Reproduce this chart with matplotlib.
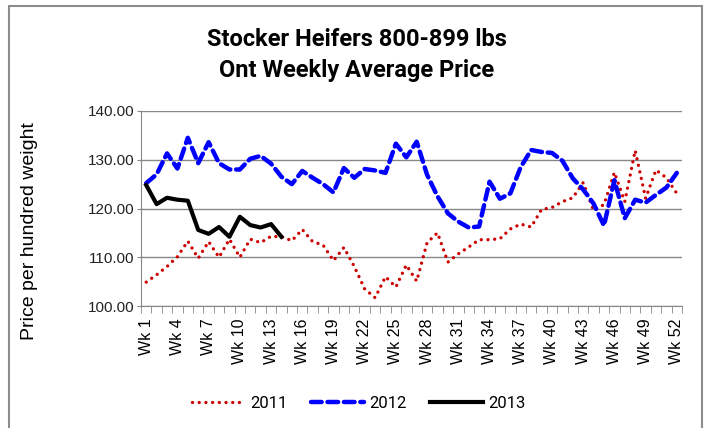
import matplotlib
matplotlib.use("Agg")
import matplotlib.pyplot as plt
from matplotlib.patches import Rectangle
import numpy as np

weeks = list(range(1, 53))
week_labels = ["Wk %d" % w for w in weeks]

price_2011 = [104.9, 106.4, 108.1, 110.1, 113.3, 109.8, 113.2, 110.0, 113.7, 110.0,
              113.7, 113.0, 114.3, 114.2, 113.4, 115.7, 113.2, 112.5, 109.3, 112.0,
              108.1, 103.5, 101.7, 106.0, 103.9, 108.4, 105.1, 113.0, 115.0, 109.0,
              110.7, 112.1, 113.6, 113.6, 113.8, 115.8, 116.8, 116.2, 119.8, 120.2,
              121.4, 122.2, 125.3, 119.6, 120.8, 127.4, 121.4, 131.9, 122.1, 127.9,
              126.3, 123.1]
price_2012 = [125.2, 127.0, 131.3, 128.2, 134.5, 129.3, 133.6, 129.3, 128.0, 128.0,
              130.2, 130.8, 129.2, 126.5, 125.0, 127.7, 126.3, 125.0, 123.3, 128.3,
              126.3, 128.1, 127.8, 127.3, 133.3, 130.5, 133.7, 126.9, 122.5, 119.0,
              117.3, 116.1, 116.3, 125.5, 122.0, 123.1, 128.5, 132.0, 131.6, 131.4,
              129.8, 126.2, 123.9, 121.0, 116.5, 125.8, 118.0, 121.8, 121.2, 122.8,
              124.3, 127.3]
price_2013 = [124.8, 120.9, 122.2, 121.8, 121.6, 115.6, 114.8, 116.2, 114.2, 118.3,
              116.6, 116.1, 116.8, 114.2]

title = "Stocker Heifers 800-899 lbs\nOnt Weekly Average Price"
ylabel = "Price per hundred weight"

fig = plt.figure(figsize=(7.08, 4.28), dpi=100)
ax = fig.add_axes([141 / 708, 1 - 306 / 428, 541 / 708, 195 / 428])

ax.plot(weeks, price_2011, color="#CC0000", lw=2.4, linestyle=(0, (0.01, 2.0)),
        dash_capstyle="round", label="2011")
ax.plot(weeks, price_2012, color="#0000FF", lw=3.2, linestyle=(0, (2.4, 1.3)),
        dash_capstyle="round", label="2012")
ax.plot(weeks[:len(price_2013)], price_2013, color="black", lw=3.0,
        solid_joinstyle="round", label="2013")

ax.set_ylim(100, 140)
ax.set_xlim(0.5, 52.5)
ax.set_yticks(np.arange(100, 141, 10))
ax.set_yticklabels(["%.2f" % v for v in np.arange(100, 141, 10)],
                   fontsize=11, family=["Liberation Sans", "DejaVu Sans"], color="#222222")
ax.set_xticks(weeks[::3])
ax.set_xticklabels(week_labels[::3], rotation=90, fontsize=11.5,
                   family=["Liberation Sans", "DejaVu Sans"])
ax.set_xticks(np.arange(0.5, 53, 1), minor=True)
ax.tick_params(axis="x", which="major", length=0, pad=9)
ax.tick_params(axis="x", which="minor", length=5, color="#888888")
ax.tick_params(axis="y", length=3, color="#888888", pad=2)

ax.grid(axis="y", color="#888888", lw=1)
ax.set_axisbelow(True)
for side in ["top", "right"]:
    ax.spines[side].set_visible(False)
for side in ["left", "bottom"]:
    ax.spines[side].set_color("#888888")

fig.text(357 / 708, 1 - 55 / 428, title, ha="center", va="center",
         fontsize=17, fontweight="bold", linespacing=1.45,
         family=["Roboto", "DejaVu Sans"])
fig.text(30 / 708, 1 - 231 / 428, ylabel, rotation=90, ha="center", va="center",
         fontsize=14, family=["Liberation Sans", "DejaVu Sans"])

fig.legend(loc="center", bbox_to_anchor=(359 / 708, 1 - 403 / 428), ncol=3,
           frameon=False, handlelength=3.2, handletextpad=0.3, columnspacing=1.4,
           prop={"family": ["Roboto", "DejaVu Sans"], "size": 12})

fig.patches.append(Rectangle((9 / 708, -0.02), 693 / 708, 1.02 - 6 / 428,
                             transform=fig.transFigure, fill=False,
                             edgecolor="#8c8c8c", lw=1.5))

fig.savefig("out.png", dpi=100)
